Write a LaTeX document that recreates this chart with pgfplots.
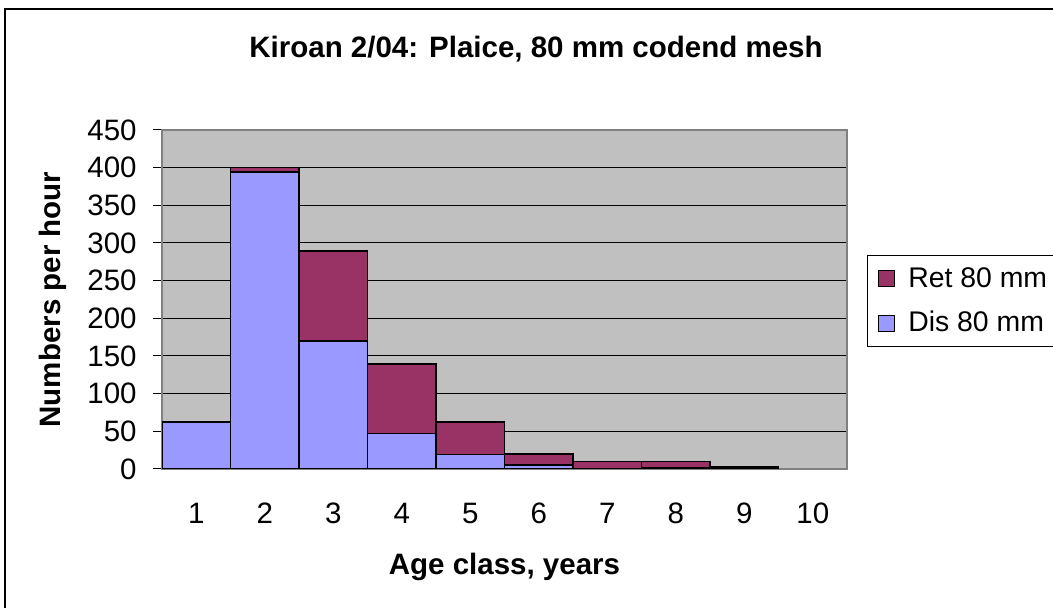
\documentclass[border=0pt]{standalone}
\usepackage{fontspec}
\setmainfont{Liberation Sans}
\usepackage{pgfplots}
\pgfplotsset{compat=1.18}
\definecolor{dis}{RGB}{153,153,255}
\definecolor{ret}{RGB}{153,51,102}
\definecolor{bg}{RGB}{192,192,192}
\definecolor{frm}{RGB}{128,128,128}
\newcommand{\fs}{\fontsize{14.75}{18}\selectfont}
\newcommand{\fl}{\fontsize{14.2}{17}\selectfont}
\begin{document}
\begin{tikzpicture}[x=0.5pt,y=0.5pt]
\useasboundingbox (0,0) rectangle (1053,608);
\clip (0,0) rectangle (1053,608);
\draw[line width=1pt] (5,599) rectangle (1080,-20);
\node[font=\fs\bfseries] at (536,559) {Kiroan 2/04: Plaice, 80 mm codend mesh};
\begin{axis}[
  at={(81pt,69.5pt)}, anchor=south west,
  scale only axis, width=342.5pt, height=169.5pt,
  ybar stacked, bar width=1,
  xmin=0.5, xmax=10.5, ymin=0, ymax=450,
  ytick={0,50,...,450},
  xtick={1,...,10},
  minor xtick={0.5,1.5,...,10.5},
  tick align=outside, tick pos=left,
  major tick length=4.5pt, minor tick length=4.5pt,
  xtick style={draw=none},
  minor tick style={draw=frm, line width=0.5pt},
  ytick style={draw=black, line width=0.5pt},
  ymajorgrids, major grid style={black, line width=0.5pt},
  axis line style={draw=frm, line width=0.6pt},
  axis background/.style={fill=bg},
  /pgf/number format/assume math mode=true,
  ticklabel style={font=\fs, inner sep=0pt},
  xticklabel style={yshift=-12.5pt},
  yticklabel style={xshift=-8pt},
  xlabel={Age class, years},
  ylabel={Numbers per hour},
  xlabel style={font=\fs\bfseries, at={(axis description cs:0.5,-0.29)}, anchor=center},
  ylabel style={font=\fs\bfseries, at={(axis description cs:-0.159,0.5)}, anchor=center},
  legend style={at={(1.029,0.631)}, anchor=north west, draw=black, fill=white,
    font=\fl, row sep=10.5pt, column sep=6.5pt, inner xsep=5.5pt, inner ysep=6pt,
    nodes={inner sep=0pt}},
  legend cell align=left,
  reverse legend,
  legend image code/.code={\draw[#1,draw=black,line width=0.5pt] (0pt,-4pt) rectangle (8pt,4pt);},
]
\addplot[fill=dis, draw=black, line width=0.8pt] coordinates {(1,62) (2,394) (3,170) (4,47) (5,19) (6,5) (7,0) (8,2) (9,1) (10,0)};
\addplot[fill=ret, draw=black, line width=0.8pt] coordinates {(1,0) (2,6) (3,119) (4,92) (5,43) (6,15) (7,10) (8,8) (9,2) (10,0)};
\legend{Dis 80 mm\hspace{6pt}, Ret 80 mm\hspace{6pt}}
\end{axis}
\end{tikzpicture}
\end{document}
